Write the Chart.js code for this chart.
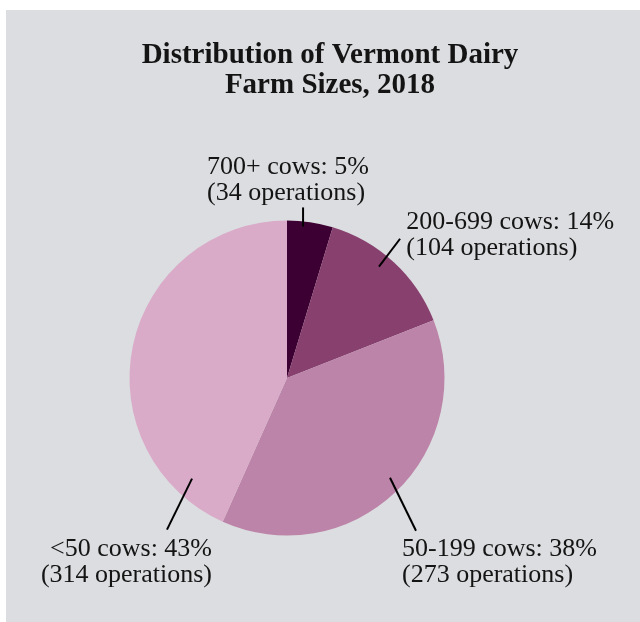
<!DOCTYPE html>
<html>
<head>
<meta charset="utf-8">
<script src="https://cdn.jsdelivr.net/npm/chart.js@4/dist/chart.umd.min.js"></script>
<style>
html,body{margin:0;padding:0;background:#ffffff;}
#wrap{position:absolute;left:0;top:0;width:640px;height:622px;}
</style>
</head>
<body>
<div id="wrap"><canvas id="c" width="640" height="622"></canvas></div>
<script>
// ---- data ----
const categories = ['700+ cows', '200-699 cows', '50-199 cows', '<50 cows'];
const operations = [34, 104, 273, 314];
const percents = [5, 14, 38, 43];
const titleLines = ['Distribution of Vermont Dairy', 'Farm Sizes, 2018'];

// ---- styles / layout (not data) ----
const sliceColors = ['#3d0032', '#88406f', '#bc84a8', '#d9abc8'];
const panelColor = '#dcdde0';
const textColor = '#141414';
// leader lines: [inner, outer] in radius units relative to pie centre
const leaders = [
  [[0.102, -0.962], [0.102, -1.083]],
  [[0.584, -0.707], [0.718, -0.884]],
  [[0.654, 0.633], [0.819, 0.970]],
  [[-0.603, 0.639], [-0.762, 0.963]]
];
// label anchor (radius units), alignment
const labelPos = [
  {x: -0.508, y: -1.296, align: 'left'},
  {x: 0.757, y: -0.947, align: 'left'},
  {x: 0.730, y: 1.128, align: 'left'},
  {x: -0.476, y: 1.128, align: 'right'}
];

const decor = {
  id: 'decor',
  beforeDraw(chart) {
    const ctx = chart.ctx;
    ctx.save();
    ctx.fillStyle = panelColor;
    ctx.fillRect(6, 10, 634, 612);
    ctx.restore();
  },
  afterDraw(chart) {
    const ctx = chart.ctx;
    const meta = chart.getDatasetMeta(0);
    ctx.save();
    // title
    ctx.fillStyle = textColor;
    ctx.font = 'bold 29px "Liberation Serif"';
    ctx.textAlign = 'center';
    ctx.textBaseline = 'alphabetic';
    ctx.fillText(titleLines[0], 330, 63);
    ctx.fillText(titleLines[1], 330, 93);
    // labels & leaders
    meta.data.forEach((arc, i) => {
      const cx = arc.x, cy = arc.y, r = arc.outerRadius;
      const L = leaders[i];
      ctx.strokeStyle = '#000';
      ctx.lineWidth = 2;
      ctx.beginPath();
      ctx.moveTo(cx + L[0][0] * r, cy + L[0][1] * r);
      ctx.lineTo(cx + L[1][0] * r, cy + L[1][1] * r);
      ctx.stroke();
      const p = labelPos[i];
      ctx.font = '26px "Liberation Serif"';
      ctx.textAlign = p.align;
      ctx.fillStyle = textColor;
      const x = cx + p.x * r, y = cy + p.y * r;
      ctx.fillText(categories[i] + ': ' + percents[i] + '%', x, y);
      ctx.fillText('(' + operations[i] + ' operations)', x, y + 26);
    });
    ctx.restore();
  }
};

new Chart(document.getElementById('c'), {
  type: 'pie',
  data: {
    labels: categories,
    datasets: [{
      data: operations,
      backgroundColor: sliceColors,
      borderWidth: 0
    }]
  },
  options: {
    responsive: false,
    animation: false,
    layout: {padding: {left: 129.5, right: 195.5, top: 220.5, bottom: 86.5}},
    plugins: {legend: {display: false}, tooltip: {enabled: false}, title: {display: false}}
  },
  plugins: [decor]
});
</script>
</body>
</html>
